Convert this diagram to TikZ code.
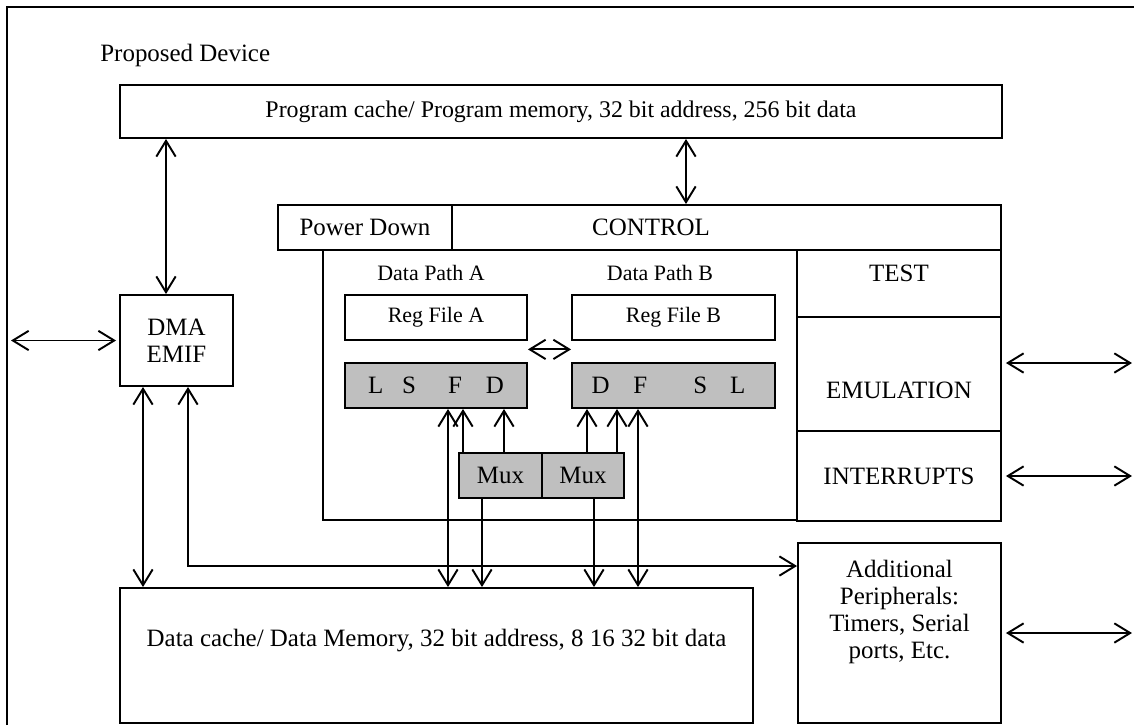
\documentclass[tikz,border=0pt]{standalone}
\usepackage{fontspec}
\setmainfont{Liberation Serif}
\usetikzlibrary{calc,arrows.meta,positioning}

\begin{document}
\begin{tikzpicture}[
		x=0.02cm, y=-0.02cm,
		>={Straight Barb[length=9pt,width=11pt]},
		txt/.style={font=\fontsize{14.2}{15.4}\selectfont, align=center, inner sep=0pt},
		lab/.style={font=\fontsize{12.5}{15}\selectfont, inner sep=0pt},
		box/.style={draw, line width=1.1pt, inner sep=0pt, txt},
		regbox/.style={box, lab},
		unit/.style={box, fill=gray!50},
		link/.style={<->, line width=1.1pt},
		feed/.style={->, line width=1.1pt},
		frame/.style={line width=1.4pt}
	]
	
	\useasboundingbox (0,0) rectangle (1134,725);
	
	% Outer frame
	\draw[frame] (7,725) -- (7,7) -- (1134,7);
	\node[txt, anchor=west] (title) at (100,55) {Proposed Device};
	
	% Memories and DMA
	\node[box, font=\fontsize{13.6}{15}\selectfont, minimum width=17.64cm, minimum height=1.06cm]
	(prog) at (561,111.5) {Program cache/ Program memory, 32 bit address, 256 bit data};
	\node[box, minimum width=2.26cm, minimum height=1.82cm] (dma) at (176.5,340.5) {DMA\\EMIF};
	\node[box, minimum width=12.66cm, minimum height=2.7cm,
	label={[txt, yshift=0.3cm]center:Data cache/ Data Memory, 32 bit address, 8 16 32 bit data}]
	(dmem) at (436.5,655.5) {};
	\node[box, minimum width=4.06cm, minimum height=3.6cm,
	label={[txt, yshift=0.42cm]center:Additional\\Peripherals:\\Timers, Serial\\ports, Etc.}]
	(periph) at (899.5,633) {};
	
	% CPU core
	\node[box, minimum width=3.48cm, minimum height=0.9cm] (pwr) at (365,227.5) {Power Down};
	\node[box, minimum width=10.98cm, minimum height=0.9cm,
	label={[txt, xshift=-1.51cm]center:CONTROL}] (ctrl) at (726.5,227.5) {};
	\node[box, minimum width=9.48cm, minimum height=5.4cm] (core) at (560,385) {};
	\node[box, minimum width=4.08cm, minimum height=1.34cm,
	label={[txt, yshift=0.2cm]center:TEST}] (test) at (899,283.5) {};
	\node[box, minimum width=4.08cm, minimum height=2.28cm,
	label={[txt, yshift=-0.32cm]center:EMULATION}] (emu) at (899,374) {};
	\node[box, minimum width=4.08cm, minimum height=1.8cm] (intr) at (899,476) {INTERRUPTS};
	
	% Data paths
	\node[lab] (dpA) at (431,273) {Data Path A};
	\node[lab] (dpB) at (660,273) {Data Path B};
	\node[regbox, minimum width=3.64cm, minimum height=0.9cm] (regA) at (436,317.5) {Reg File A};
	\node[regbox, minimum width=4.06cm, minimum height=0.9cm] (regB) at (673.5,317.5) {Reg File B};
	\node[unit, minimum width=3.64cm, minimum height=0.9cm] (fuA) at (436,385.5)
	{L\hspace{0.38cm}S\hspace{0.64cm}F\hspace{0.48cm}D};
	\node[unit, minimum width=4.06cm, minimum height=0.9cm] (fuB) at (673.5,385.5)
	{D\hspace{0.48cm}F\hspace{0.92cm}S\hspace{0.46cm}L\hspace{0.2cm}};
	\node[unit, minimum width=1.66cm, minimum height=0.9cm] (muxA) at (500.5,475.5) {Mux};
	\node[unit, minimum width=1.64cm, minimum height=0.9cm] (muxB) at (583,475.5) {Mux};
	
	% Bus positions
	\coordinate (edgeL) at (11,0);
	\coordinate (edgeR) at (1132,0);
	\coordinate (bus) at (0,566);
	\foreach \n/\x in {p1/166, p2/686, d1/143, d2/188,
		a1/448, a2/463, a3/504, a4/482, b1/638, b2/617, b3/587, b4/594}
	\coordinate (x\n) at (\x,0);
	
	% Connections
	\draw[link] (prog.south -| xp1) -- (dma.north -| xp1);
	\draw[link] (prog.south -| xp2) -- (ctrl.north -| xp2);
	\draw[link, shorten <=0.06cm] (dma.west) -- (dma.west -| edgeL);
	\draw[link] (dma.south -| xd1) -- (dmem.north -| xd1);
	\draw[link] (dma.south -| xd2) |- (periph.west |- bus);
	\draw[link] ($(regA.south east)!0.4!(fuA.north east)$) -- ($(regB.south west)!0.4!(fuB.north west)$);
	
	\draw[link] (fuA.south -| xa1) -- (dmem.north -| xa1);
	\draw[feed] (muxA.north -| xa2) -- (fuA.south -| xa2);
	\draw[feed] (muxA.north -| xa3) -- (fuA.south -| xa3);
	\draw[feed] (muxA.south -| xa4) -- (dmem.north -| xa4);
	\draw[link] (fuB.south -| xb1) -- (dmem.north -| xb1);
	\draw[feed] (muxB.north -| xb2) -- (fuB.south -| xb2);
	\draw[feed] (muxB.north -| xb3) -- (fuB.south -| xb3);
	\draw[feed] (muxB.south -| xb4) -- (dmem.north -| xb4);
	
	\draw[link, shorten <=0.08cm] ([yshift=0.22cm]emu.east) -- ([yshift=0.22cm]emu.east -| edgeR);
	\draw[link, shorten <=0.08cm] (intr.east) -- (intr.east -| edgeR);
	\draw[link, shorten <=0.08cm] (periph.east) -- (periph.east -| edgeR);
	
\end{tikzpicture}
\end{document}
